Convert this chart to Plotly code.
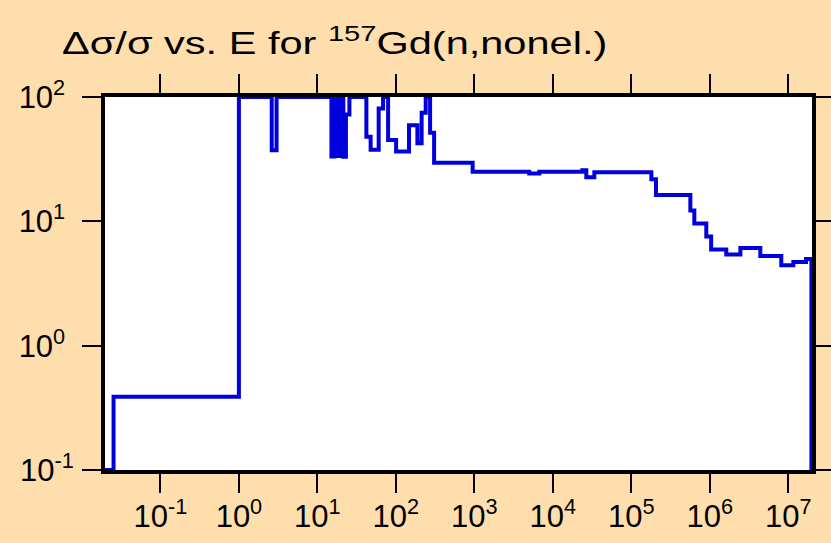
import plotly.graph_objects as go

# Step boundaries (eV) and relative uncertainty (%) for 157Gd(n,nonel.)
energy_eV = [0.0195, 0.0253, 1.0, 2.62, 3.02, 15.1, 16.5, 18.0, 19.6, 21.4, 23.1,
             25.6, 42.1, 47.7, 60.4, 68.7, 79.6, 100.7, 147, 188, 213, 240, 273,
             307, 951, 5000, 6730, 23770, 26700, 33800, 180000, 206000, 565000,
             635000, 902000, 1.04e6, 1.62e6, 2.45e6, 4.4e6, 8.14e6, 1.16e7,
             1.68e7, 1.97e7]
rel_unc_pct = [0.1, 0.389, 100, 37.3, 100, 33.3, 100, 33.5, 100, 33.0, 72.4,
               100, 48.0, 37.7, 81.0, 100, 45.0, 36.4, 59.4, 42.4, 74.7, 100, 51.6,
               29.6, 25.0, 24.2, 25.0, 25.7, 22.6, 24.8, 21.8, 16.3, 12.2,
               9.6, 7.54, 5.93, 5.41, 6.1, 5.26, 4.44, 4.71,
               4.98, 0.1]

x_tickvals = [1e-1, 1e0, 1e1, 1e2, 1e3, 1e4, 1e5, 1e6, 1e7]
x_ticktext = ["10<sup>-1</sup>", "10<sup>0</sup>", "10<sup>1</sup>", "10<sup>2</sup>",
              "10<sup>3</sup>", "10<sup>4</sup>", "10<sup>5</sup>", "10<sup>6</sup>",
              "10<sup>7</sup>"]
y_tickvals = [1e-1, 1e0, 1e1, 1e2]
# trailing no-break space keeps the labels left-aligned like the reference
y_ticktext = ["10<sup>-1</sup>", "10<sup>0</sup>\u00a0", "10<sup>1</sup>\u00a0",
              "10<sup>2</sup>\u00a0"]

title_text = "\u0394\u03c3/\u03c3 vs. E for <sup>157</sup>Gd(n,nonel.)"

W, H = 831, 543
FONT = "Liberation Sans, Arial, Helvetica, sans-serif"

fig = go.Figure()
fig.add_trace(go.Scatter(
    x=energy_eV, y=rel_unc_pct, mode="lines",
    line=dict(color="#0000dd", width=4, shape="hv"),
    hoverinfo="skip", showlegend=False,
))

axis_common = dict(
    type="log", showgrid=False, zeroline=False,
    showline=True, linecolor="black", linewidth=4, mirror="allticks",
    ticks="outside", ticklen=19, tickwidth=2, tickcolor="black",
    tickfont=dict(family=FONT, size=31, color="black"),
    layer="below traces", automargin=False,
)

fig.update_xaxes(**axis_common, range=[-1.706, 7.302],
                 tickvals=x_tickvals, ticktext=x_ticktext, ticklabelstandoff=-3)
fig.update_yaxes(**axis_common, range=[-1, 2],
                 tickvals=y_tickvals, ticktext=y_ticktext, ticklabelstandoff=2)

fig.update_layout(
    width=W, height=H,
    paper_bgcolor="#ffdead", plot_bgcolor="white",
    margin=dict(l=105, r=19, t=97, b=73, pad=0, autoexpand=False),
    title=dict(text=title_text, x=62 / W, xanchor="left", xref="container",
               y=1 - 43 / H, yanchor="middle", yref="container",
               font=dict(family=FONT, size=31, color="black")),
)

post = """
document.body.style.margin='0';document.body.style.padding='0';
var gd = document.getElementById('{plot_id}');
var t = gd ? gd.querySelector('.gtitle') : null;
if (t) {
  var x0 = parseFloat(t.getAttribute('x')) || 0;
  var prev = t.getAttribute('transform') || '';
  t.setAttribute('transform', prev + ' translate(' + x0 + ',0) scale(1.34,1) translate(' + (-x0) + ',0)');
}
"""

fig.write_html("out.html", config={"displayModeBar": False}, post_script=post)
